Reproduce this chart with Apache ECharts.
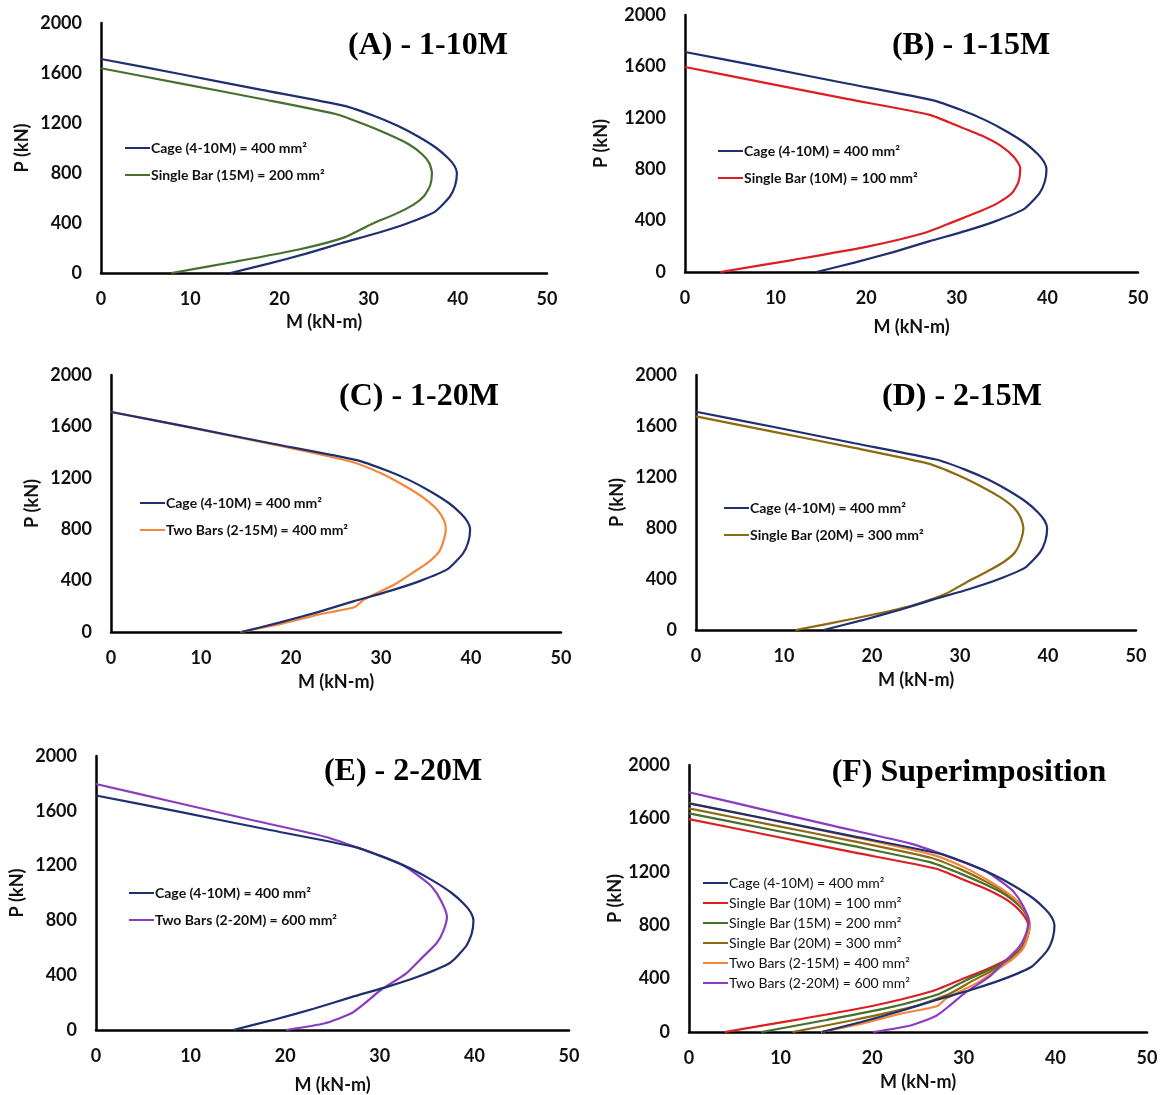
<!DOCTYPE html>
<html>
<head>
<meta charset="utf-8">
<script src="https://cdn.jsdelivr.net/npm/echarts@6/dist/echarts.min.js"></script>
<style>
  html, body { margin: 0; padding: 0; background: #fff; }
  #chart { width: 1166px; height: 1095px; }
</style>
</head>
<body>
<div id="chart"></div>
<script>
// P-M interaction curves, points are [M (kN-m), P (kN)]
const cage = [[0,1712],[9,1590],[18,1465],[27.3,1337],[30.5,1260],[33.2,1180],[35.6,1090],[37.6,1000],[38.9,920],[39.6,860],[39.9,800],[39.7,700],[39.1,610],[37.4,489],[34.3,396],[31,320],[27,240],[23,155],[18.8,75],[14.5,0]];
const singleBar10M = [[0,1595],[9,1470],[18,1345],[27,1223],[30,1140],[32.8,1060],[34.9,980],[36.3,895],[37,810],[36.8,700],[36.1,614],[34.6,540],[32.5,470],[29.6,390],[26.5,305],[20,195],[12,95],[3.9,0]];
const singleBar15M = [[0,1638],[9,1515],[18,1392],[26.3,1272],[29.5,1190],[32.2,1110],[34.5,1030],[36,950],[36.8,880],[37.1,800],[36.9,700],[36.2,614],[35,545],[33.1,475],[30.3,390],[27.3,285],[22.3,190],[15,90],[7.9,0]];
const singleBar20M = [[0,1675],[9,1552],[18,1428],[26.4,1305],[29.6,1220],[32.3,1130],[34.6,1040],[36.1,960],[36.9,880],[37.2,800],[36.9,700],[36.3,614],[35.2,545],[33.4,470],[31,385],[28.4,285],[24.5,190],[18,90],[11.3,0]];
const twoBars15M = [[0,1714],[9,1588],[18,1460],[26.7,1325],[30,1235],[32.8,1130],[34.8,1040],[36.2,955],[37,870],[37.2,800],[36.9,700],[36.4,620],[35.2,540],[33.5,460],[31.5,370],[28.1,252],[27.1,195],[23,135],[19,65],[14.4,0]];
const twoBars20M = [[0,1796],[8,1668],[16,1540],[24.2,1411],[28.5,1310],[32.4,1204],[34.2,1120],[35.5,1046],[36.5,940],[37.1,827],[36.7,720],[36,633],[34.5,530],[32.8,414],[30.1,292],[28.5,200],[27,122],[24.2,49],[20.1,0]];

const names = {
    cage: 'Cage (4-10M) = 400 mm²',
    b10: 'Single Bar (10M) = 100 mm²',
    b15: 'Single Bar (15M) = 200 mm²',
    b20: 'Single Bar (20M) = 300 mm²',
    t15: 'Two Bars (2-15M) = 400 mm²',
    t20: 'Two Bars (2-20M) = 600 mm²'
};
const colors = {
    cage: '#1f2f70',
    b10: '#dc1f22',
    b15: '#45702d',
    b20: '#8d6a12',
    t15: '#f4873a',
    t20: '#8a3dc2'
};
const curves = { cage: cage, b10: singleBar10M, b15: singleBar15M, b20: singleBar20M, t15: twoBars15M, t20: twoBars20M };

const panelTitles = ['(A) - 1-10M', '(B) - 1-15M', '(C) - 1-20M', '(D) - 2-15M', '(E) - 2-20M', '(F) Superimposition'];
const panelCurves = [
    ['cage', 'b15'],
    ['cage', 'b10'],
    ['cage', 't15'],
    ['cage', 'b20'],
    ['cage', 't20'],
    ['cage', 'b10', 'b15', 'b20', 't15', 't20']
];
const xTicks = [0, 50, 10];      // min, max, interval
const yTicks = [0, 2000, 400];

// layout of each panel (pixels)
const panels = [
    { left: 101, top: 23,  width: 446, height: 250, titleX: 423, titleY: 42,  legX: 120, legY: 143, xGap: 40, yGap: 70 },
    { left: 685, top: 15,  width: 453, height: 257, titleX: 966, titleY: 42,  legX: 713, legY: 146, xGap: 46, yGap: 75 },
    { left: 111, top: 375, width: 450, height: 257, titleX: 414, titleY: 393, legX: 135, legY: 498, xGap: 41, yGap: 70 },
    { left: 696, top: 375, width: 440, height: 255, titleX: 957, titleY: 393, legX: 719, legY: 503, xGap: 41, yGap: 70 },
    { left: 96,  top: 756, width: 473, height: 274, titleX: 398, titleY: 768, legX: 124, legY: 888, xGap: 46, yGap: 70 },
    { left: 689, top: 765, width: 458, height: 267, titleX: 964, titleY: 769, legX: 698, legY: 878, xGap: 41, yGap: 63 }
];

const labelFont = { fontFamily: 'Lato', fontWeight: 'bold', fontSize: 18, color: '#111' };

const chart = echarts.init(document.getElementById('chart'));

const grid = [], xAxis = [], yAxis = [], title = [], legend = [], series = [];
panels.forEach((p, i) => {
    const isF = i === 5;
    grid.push({ left: p.left, top: p.top, width: p.width, height: p.height });
    xAxis.push({
        type: 'value', gridIndex: i, min: xTicks[0], max: xTicks[1], interval: xTicks[2],
        name: 'M (kN-m)', nameLocation: 'middle', nameGap: p.xGap, nameTextStyle: labelFont,
        axisLine: { show: true, onZero: false, lineStyle: { color: '#000', width: 2.5 } },
        axisTick: { show: false }, splitLine: { show: false },
        axisLabel: Object.assign({ margin: 17, formatter: v => String(v) }, labelFont)
    });
    yAxis.push({
        type: 'value', gridIndex: i, min: yTicks[0], max: yTicks[1], interval: yTicks[2],
        name: 'P (kN)', nameLocation: 'middle', nameGap: p.yGap, nameTextStyle: labelFont,
        axisLine: { show: true, onZero: false, lineStyle: { color: '#000', width: 2.5 } },
        axisTick: { show: false }, splitLine: { show: false },
        axisLabel: Object.assign({ margin: 19, formatter: v => String(v) }, labelFont)
    });
    title.push({
        text: panelTitles[i], left: p.titleX, top: p.titleY - 17, textAlign: 'center',
        textStyle: { fontFamily: 'Liberation Serif', fontWeight: 'bold', fontSize: 32, color: '#000' }
    });
    legend.push({
        orient: 'vertical', left: p.legX, top: p.legY - 7,
        itemWidth: 25, itemHeight: 2, icon: 'rect', itemGap: isF ? 6 : 13,
        selectedMode: false,
        data: panelCurves[i].map(k => names[k] + '#' + i),
        formatter: n => n.split('#')[0],
        textStyle: { fontFamily: 'Lato', fontWeight: isF ? 'normal' : 'bold', fontSize: 14, color: '#111', padding: [0, 0, 0, -4] }
    });
    panelCurves[i].forEach(k => {
        series.push({
            name: names[k] + '#' + i,
            type: 'line', xAxisIndex: i, yAxisIndex: i,
            data: curves[k],
            color: colors[k],
            showSymbol: false, smooth: 0.2,
            lineStyle: { width: 2.2, color: colors[k] },
            z: k === 'cage' ? 3 : 2
        });
    });
});

chart.setOption({
    animation: false,
    backgroundColor: '#fff',
    title: title,
    legend: legend,
    grid: grid,
    xAxis: xAxis,
    yAxis: yAxis,
    series: series
});
</script>
</body>
</html>
